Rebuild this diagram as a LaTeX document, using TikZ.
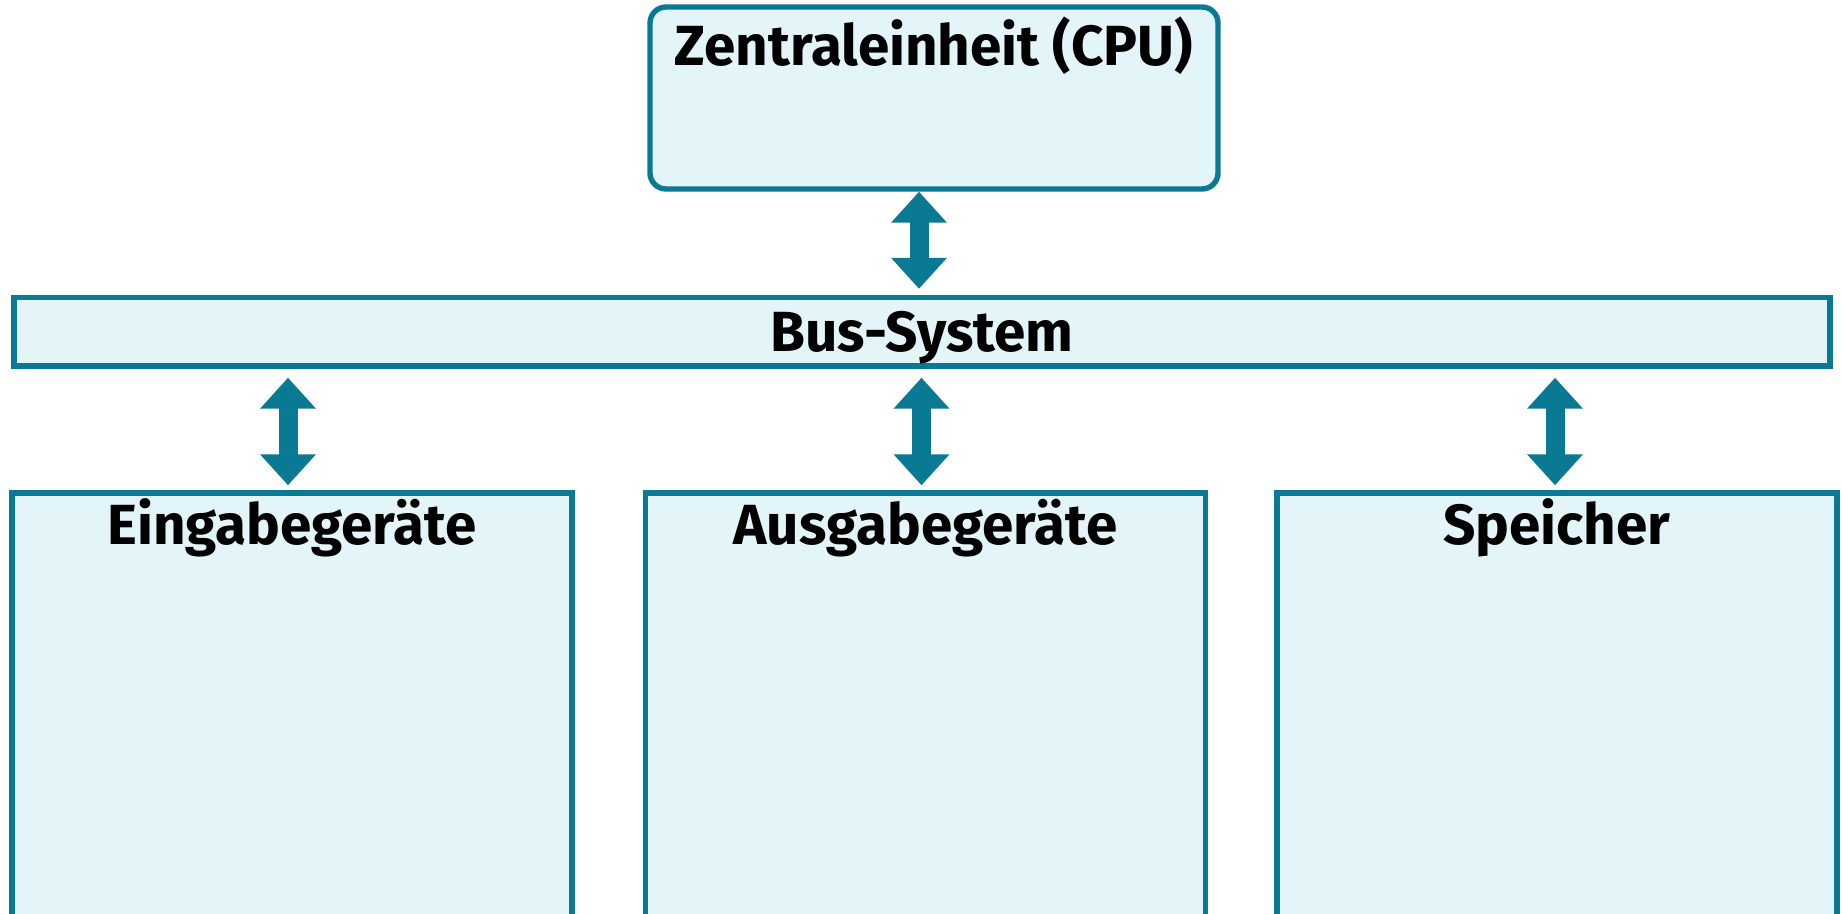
\documentclass[tikz,border=0pt]{standalone}
\usepackage{fontspec}
\setmainfont{Fira Sans}
\usetikzlibrary{arrows.meta,calc}
\definecolor{edge}{HTML}{0A7A94}
\definecolor{panel}{HTML}{E3F5F8}
\begin{document}
\begin{tikzpicture}[x=0.5pt,y=-0.5pt,
  box/.style={draw=edge, fill=panel, line width=2.7pt, inner sep=0pt},
  title/.style={font=\bfseries\fontsize{28.3}{31}\selectfont, anchor=base, inner sep=0pt},
  tip/.style={Triangle[width=27pt 0 0, length=15.5pt 0 0]},
  link/.style={draw=edge, line width=9.5pt, {Triangle[width=27pt 0 0, length=15.5pt 0 0]}-{Triangle[width=27pt 0 0, length=15.5pt 0 0]}}]
  \useasboundingbox (0,0) rectangle (1842,914);
  \clip (0,0) rectangle (1842,914);

  % boxes
  \node[box, rounded corners=8pt, minimum width=284pt, minimum height=91pt] (cpu) at (934,98) {};
  \node[box, minimum width=908pt, minimum height=34.25pt] (bus) at (922,331.75) {};
  \node[box, minimum width=280pt, minimum height=218.5pt] (in)  at (292,711.5) {};
  \node[box, minimum width=280pt, minimum height=218.5pt] (out) at (925.5,711.5) {};
  \node[box, minimum width=280pt, minimum height=218.5pt] (mem) at (1557,711.5) {};

  % titles
  \node[title] (cput) at (934,66) {Zentraleinheit (CPU)};
  \node[title] (bust) at (922,352) {Bus-System};
  \node[title] (int)  at (292,545) {Eingabegeräte};
  \node[title] (outt) at (925.5,545) {Ausgabegeräte};
  \node[title] (memt) at (1557,545) {Speicher};

  % bus connections
  \draw[link] ($(cpu.south)+(-15,0)$) -- ($(bus.north)+(-3,-6)$);
  \draw[link] ($(in.north |- bus.south)+(-4,9)$) -- ($(in.north)+(-4,-5)$);
  \draw[link] ($(out.north |- bus.south)+(-4,9)$) -- ($(out.north)+(-4,-5)$);
  \draw[link] ($(mem.north |- bus.south)+(-2,9)$) -- ($(mem.north)+(-2,-5)$);
\end{tikzpicture}
\end{document}
